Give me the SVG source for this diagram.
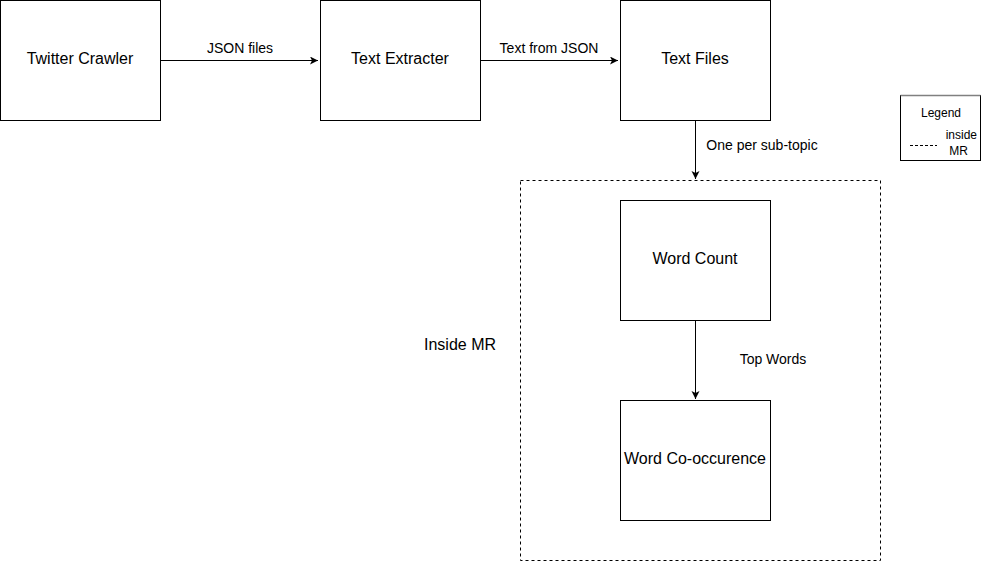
<svg xmlns="http://www.w3.org/2000/svg" width="983" height="563" viewBox="0 0 983 563">
<style>
.box{fill:#fff;stroke:#000;stroke-width:1}
.t{font-family:"Liberation Sans",Arial,sans-serif;font-size:16px;fill:#000;text-anchor:middle;dominant-baseline:central}
.s{font-family:"Liberation Sans",Arial,sans-serif;font-size:14px;fill:#000;text-anchor:middle;dominant-baseline:central}
.l{font-family:"Liberation Sans",Arial,sans-serif;font-size:12px;fill:#000;dominant-baseline:central}
.c{fill:none;stroke:#000;stroke-width:1}
</style>
<defs>
<marker id="arr" markerWidth="10" markerHeight="10" refX="8" refY="4" orient="auto" markerUnits="userSpaceOnUse">
<path d="M0,0 L8,4 L0,8 L2,4 Z" fill="#000"/>
</marker>
</defs>
<rect width="983" height="563" fill="#fff"/>
<g id="container">
<rect x="520.5" y="180.5" width="360" height="380" fill="none" stroke="#000" stroke-dasharray="3,3"/>
<text class="t" x="460" y="344">Inside MR</text>
</g>
<g id="connectors">
<line class="c" x1="160.5" y1="60.5" x2="318" y2="60.5" marker-end="url(#arr)"/>
<line class="c" x1="480.5" y1="60.5" x2="618" y2="60.5" marker-end="url(#arr)"/>
<line class="c" x1="695.5" y1="120.5" x2="695.5" y2="179" marker-end="url(#arr)"/>
<line class="c" x1="695.5" y1="320.5" x2="695.5" y2="399" marker-end="url(#arr)"/>
<text class="s" x="240" y="48">JSON files</text>
<text class="s" x="549" y="48">Text from JSON</text>
<text class="s" x="762" y="145">One per sub-topic</text>
<text class="s" x="773" y="359">Top Words</text>
</g>
<g id="twitter-crawler">
<rect class="box" x="0.5" y="0.5" width="160" height="120"/>
<text class="t" x="80" y="58">Twitter Crawler</text>
</g>
<g id="text-extracter">
<rect class="box" x="320.5" y="0.5" width="160" height="120"/>
<text class="t" x="400" y="58">Text Extracter</text>
</g>
<g id="text-files">
<rect class="box" x="620.5" y="0.5" width="150" height="120"/>
<text class="t" x="695" y="58">Text Files</text>
</g>
<g id="word-count">
<rect class="box" x="620.5" y="200.5" width="150" height="120"/>
<text class="t" x="695" y="258">Word Count</text>
</g>
<g id="word-cooccurence">
<rect class="box" x="620.5" y="400.5" width="150" height="120"/>
<text class="t" x="695" y="458">Word Co-occurence</text>
</g>
<g id="legend">
<rect class="box" x="900.5" y="95.5" width="80" height="65"/>
<line x1="900.5" y1="95.5" x2="980.5" y2="95.5" stroke="#808080" stroke-width="1.5"/>
<text class="l" x="941" y="113" text-anchor="middle">Legend</text>
<line x1="910" y1="145.5" x2="937" y2="145.5" stroke="#000" stroke-dasharray="3,2"/>
<text class="l" x="977" y="135" text-anchor="end">inside</text>
<text class="l" x="968" y="151" text-anchor="end">MR</text>
</g>
</svg>
